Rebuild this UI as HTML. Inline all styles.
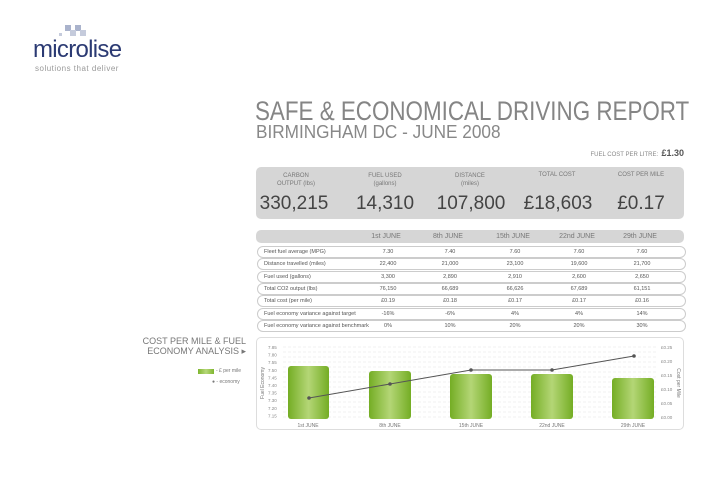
<!DOCTYPE html>
<html><head><meta charset="utf-8"><style>
body{margin:0;background:#fff;font-family:"Liberation Sans",sans-serif;}
.a{position:absolute;white-space:nowrap}
#p{position:relative;width:720px;height:500px;overflow:hidden}
.row{position:absolute;left:257px;width:427px;height:10px;border:1px solid #ccc;border-radius:6px;font-size:5.5px;color:#555;}
.row span{position:absolute;top:2px}
.c{transform:translateX(-50%)}
</style></head><body><div id="p">
<svg class="a" style="left:55px;top:25px" width="40" height="14"><rect x="10" y="0" width="6" height="6" fill="#aab3cc"/><rect x="20" y="0" width="6" height="6" fill="#aab3cc"/><rect x="15" y="5" width="6" height="6" fill="#c5cbdc"/><rect x="25" y="5" width="6" height="6" fill="#c5cbdc"/><rect x="4" y="8" width="3" height="3" fill="#c5cbdc"/></svg>
<div class="a" style="left:33px;top:36px;font-size:24px;color:#2b3a73;letter-spacing:-0.7px">microlise</div>
<div class="a" style="left:35px;top:64px;font-size:8px;color:#999;letter-spacing:0.5px">solutions that deliver</div>

<div class="a" style="left:255px;top:96px;font-size:26.5px;color:#858585;transform:scaleX(0.845);transform-origin:0 0">SAFE &amp; ECONOMICAL DRIVING REPORT</div>
<div class="a" style="left:256px;top:122px;font-size:18px;color:#888;transform:scaleX(0.955);transform-origin:0 0">BIRMINGHAM DC - JUNE 2008</div>
<div class="a" style="right:36px;top:148px;font-size:6px;color:#888">FUEL COST PER LITRE: &nbsp;<b style="font-size:9px;color:#555">£1.30</b></div>

<div class="a" style="left:256px;top:167px;width:428px;height:52px;background:#d6d6d6;border-radius:5px"></div>
<div class="a c" style="left:296px;top:172px;font-size:6px;color:#777;text-align:center;line-height:8px">CARBON<br>OUTPUT (lbs)</div>
<div class="a c" style="left:385px;top:172px;font-size:6px;color:#777;text-align:center;line-height:8px">FUEL USED<br>(gallons)</div>
<div class="a c" style="left:470px;top:172px;font-size:6px;color:#777;text-align:center;line-height:8px">DISTANCE<br>(miles)</div>
<div class="a c" style="left:557px;top:172px;font-size:6px;color:#777;text-align:center">TOTAL COST</div>
<div class="a c" style="left:641px;top:172px;font-size:6px;color:#777;text-align:center">COST PER MILE</div>
<div class="a c" style="left:294px;top:193px;font-size:19px;color:#444">330,215</div>
<div class="a c" style="left:385px;top:193px;font-size:19px;color:#444">14,310</div>
<div class="a c" style="left:471px;top:193px;font-size:19px;color:#444">107,800</div>
<div class="a c" style="left:558px;top:193px;font-size:19px;color:#444">£18,603</div>
<div class="a c" style="left:641px;top:193px;font-size:19px;color:#444">£0.17</div>

<div class="a" style="left:256px;top:230px;width:428px;height:13px;background:#d6d6d6;border-radius:5px;font-size:7px;color:#777">
<span class="a c" style="left:130px;top:3px">1st JUNE</span><span class="a c" style="left:192px;top:3px">8th JUNE</span><span class="a c" style="left:257px;top:3px">15th JUNE</span><span class="a c" style="left:321px;top:3px">22nd JUNE</span><span class="a c" style="left:384px;top:3px">29th JUNE</span></div>
<div id="rows"></div>

<div class="a" style="right:474px;top:336px;font-size:9px;color:#777;text-align:right;line-height:10px">COST PER MILE &amp; FUEL<br>ECONOMY ANALYSIS ▸</div>
<div class="a" style="left:198px;top:369px;width:16px;height:5px;background:linear-gradient(90deg,#7fb62f,#b6d77a,#7fb62f)"></div>
<div class="a" style="left:216px;top:368px;font-size:5px;color:#777">- £ per mile</div>
<div class="a" style="left:212px;top:379px;font-size:5px;color:#777">● - economy</div>

<div class="a" style="left:256px;top:337px;width:428px;height:93px;border:1px solid #ddd;border-radius:5px;box-sizing:border-box"></div>
<svg class="a" style="left:0;top:0" width="720" height="500">
<defs><linearGradient id="g" x1="0" x2="1"><stop offset="0" stop-color="#74ad24"/><stop offset="0.5" stop-color="#b4d676"/><stop offset="1" stop-color="#74ad24"/></linearGradient></defs>
<g id="grid" stroke="#e2e2e2" stroke-width="0.5" stroke-dasharray="3,2"></g>
<g fill="url(#g)">
<rect x="288" y="366" width="41" height="53" rx="3"/>
<rect x="369" y="371" width="42" height="48" rx="3"/>
<rect x="450" y="374" width="42" height="45" rx="3"/>
<rect x="531" y="374" width="42" height="45" rx="3"/>
<rect x="612" y="378" width="42" height="41" rx="3"/>
</g>
<polyline points="309,398 390,384 471,370 552,370 634,356" fill="none" stroke="#555" stroke-width="1"/>
<g fill="#555"><circle cx="309" cy="398" r="1.8"/><circle cx="390" cy="384" r="1.8"/><circle cx="471" cy="370" r="1.8"/><circle cx="552" cy="370" r="1.8"/><circle cx="634" cy="356" r="1.8"/></g>
<g font-size="5" fill="#777" font-family="Liberation Sans" text-anchor="middle">
<text x="308" y="427">1st JUNE</text><text x="390" y="427">8th JUNE</text><text x="471" y="427">15th JUNE</text><text x="552" y="427">22nd JUNE</text><text x="633" y="427">29th JUNE</text>
</g>
<g id="yl" font-size="4.5" fill="#888" font-family="Liberation Sans"></g>
<text transform="translate(264,383) rotate(-90)" font-size="5" fill="#777" text-anchor="middle" font-family="Liberation Sans">Fuel Economy</text>
<text transform="translate(677,383) rotate(90)" font-size="5" fill="#777" text-anchor="middle" font-family="Liberation Sans">Cost per Mile</text>
</svg>
</div>
<script>
var g=document.getElementById('grid'),yl=document.getElementById('yl');
var gs='',ts='';
for(var i=0;i<15;i++){var y=347+i*5;gs+='<line x1="283" x2="658" y1="'+y+'" y2="'+y+'"/>';}
var left=['7.85','7.80','7.55','7.50','7.45','7.40','7.35','7.30','7.20','7.15'];
for(var i=0;i<10;i++){var y=349+i*7.6;ts+='<text x="268" y="'+y+'">'+left[i]+'</text>';}
var r=['£0.25','£0.20','£0.15','£0.10','£0.05','£0.00'];
for(var i=0;i<6;i++){ts+='<text x="661" y="'+(349+i*14)+'">'+r[i]+'</text>';}
g.innerHTML=gs;yl.innerHTML=ts;
var rows=[['Fleet fuel average (MPG)','7.30','7.40','7.60','7.60','7.60'],['Distance travelled (miles)','22,400','21,000','23,100','19,600','21,700'],['Fuel used (gallons)','3,300','2,890','2,910','2,600','2,650'],['Total CO2 output (lbs)','76,150','66,689','66,626','67,689','61,151'],['Total cost (per mile)','£0.19','£0.18','£0.17','£0.17','£0.16'],['Fuel economy variance against target','-16%','-6%','4%','4%','14%'],['Fuel economy variance against benchmark','0%','10%','20%','20%','30%']];
var xs=[130,192,257,321,384],h='';
rows.forEach(function(r,i){h+='<div class="row" style="top:'+(246+i*12.3)+'px"><span style="left:6px">'+r[0]+'</span>';for(var j=0;j<5;j++)h+='<span class="c" style="left:'+xs[j]+'px">'+r[j+1]+'</span>';h+='</div>';});
document.getElementById('rows').innerHTML=h;
</script>
</body></html>
